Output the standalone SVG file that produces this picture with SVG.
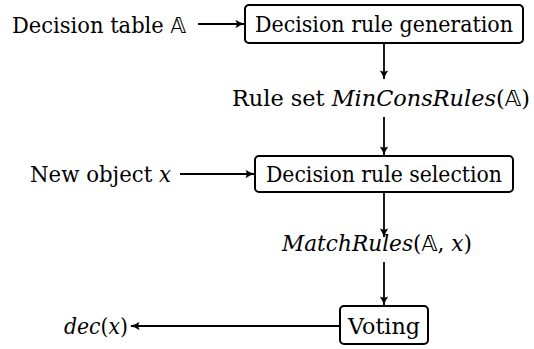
<svg xmlns="http://www.w3.org/2000/svg" width="534" height="349" viewBox="0 0 534 349">
  <style>
    .box { fill: #ffffff; stroke: #000000; stroke-width: 2; }
    text { font-family: 'DejaVu Serif', 'Liberation Serif', serif; font-size: 22px; fill: #000000; }
    .math { font-style: italic; }
    .bb { font-family: 'DejaVu Sans', sans-serif; font-style: normal; }
    .edge { fill: none; stroke: #000000; stroke-width: 1.8; }
  </style>
  <defs>
    <marker id="tip" viewBox="0 0 10 10" refX="9" refY="5" markerWidth="10" markerHeight="10" markerUnits="userSpaceOnUse" orient="auto">
      <path d="M0.5,0.8 Q5,4 9.8,5 Q5,6 0.5,9.2 Q2.8,5 0.5,0.8 Z" fill="#000000"/>
    </marker>
  </defs>

  <!-- connectors -->
  <g id="connectors">
    <line class="edge" x1="198" y1="24" x2="244" y2="24" marker-end="url(#tip)"/>
    <line class="edge" x1="384" y1="43" x2="384" y2="79" marker-end="url(#tip)"/>
    <line class="edge" x1="384" y1="117" x2="384" y2="155" marker-end="url(#tip)"/>
    <line class="edge" x1="180" y1="174" x2="254" y2="174" marker-end="url(#tip)"/>
    <line class="edge" x1="384" y1="192" x2="384" y2="237" marker-end="url(#tip)"/>
    <line class="edge" x1="384" y1="262" x2="384" y2="305" marker-end="url(#tip)"/>
    <line class="edge" x1="340" y1="326" x2="131" y2="326" marker-end="url(#tip)"/>
  </g>

  <!-- inputs and outputs -->
  <g id="input-table">
    <text x="12" y="33" textLength="174" lengthAdjust="spacingAndGlyphs">Decision table <tspan class="bb">𝔸</tspan></text>
  </g>
  <g id="input-object">
    <text x="30" y="182" textLength="141" lengthAdjust="spacingAndGlyphs">New object <tspan class="math">x</tspan></text>
  </g>
  <g id="rule-set">
    <text x="232" y="106" textLength="298" lengthAdjust="spacingAndGlyphs">Rule set <tspan class="math">MinConsRules</tspan>(<tspan class="bb">𝔸</tspan>)</text>
  </g>
  <g id="match-rules">
    <text x="282" y="251" textLength="190" lengthAdjust="spacingAndGlyphs"><tspan class="math">MatchRules</tspan>(<tspan class="bb">𝔸</tspan>, <tspan class="math">x</tspan>)</text>
  </g>
  <g id="decision-out">
    <text x="64" y="334" textLength="64" lengthAdjust="spacingAndGlyphs"><tspan class="math">dec</tspan>(<tspan class="math">x</tspan>)</text>
  </g>

  <!-- process boxes -->
  <g id="rule-generation">
    <rect class="box" x="245" y="5" width="278" height="38" rx="4"/>
    <text x="384" y="32" text-anchor="middle" textLength="258" lengthAdjust="spacingAndGlyphs">Decision rule generation</text>
  </g>
  <g id="rule-selection">
    <rect class="box" x="255" y="156" width="258" height="36" rx="4"/>
    <text x="384" y="182" text-anchor="middle" textLength="236" lengthAdjust="spacingAndGlyphs">Decision rule selection</text>
  </g>
  <g id="voting">
    <rect class="box" x="340" y="306" width="88" height="38" rx="4"/>
    <text x="384" y="334" text-anchor="middle" textLength="72" lengthAdjust="spacingAndGlyphs">Voting</text>
  </g>
</svg>
